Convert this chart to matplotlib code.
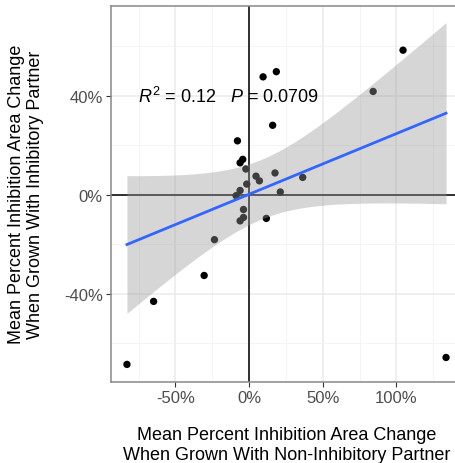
import numpy as np
import matplotlib
matplotlib.use("Agg")
import matplotlib.pyplot as plt
from matplotlib.ticker import FixedLocator, FuncFormatter

plt.rcParams['font.family'] = ['Liberation Sans', 'DejaVu Sans']
plt.rcParams['mathtext.fontset'] = 'custom'
plt.rcParams['mathtext.rm'] = 'Liberation Sans'
plt.rcParams['mathtext.it'] = 'Liberation Sans:italic'

# Data (percent)
x_nonihib = [104.5, 84.2, 18.5, 9.5, 16.0, -7.9, -4.3, -6.1, -2.2, 17.6, 36.4, 4.7, 7.0,
             -1.6, 21.2, -6.1, -8.8, -3.8, -3.8, -6.1, 11.7, -23.5, -30.5, -64.8, -82.9, 133.7]
y_inhib = [58.5, 41.8, 49.8, 47.7, 28.1, 21.8, 14.3, 12.9, 10.4, 8.8, 7.0, 7.5, 5.6,
           4.3, 1.1, 1.7, -0.4, -6.0, -9.2, -10.6, -9.6, -18.2, -32.7, -43.2, -68.7, -65.9]
x_ticks = [-50, 0, 50, 100]
y_ticks = [-40, 0, 40]
x_minor = [-75, -25, 25, 75, 125]
y_minor = [-60, -20, 20, 60]
annot_text = r"$R^2$ = 0.12   $P$ = 0.0709"
x_title = "Mean Percent Inhibition Area Change\nWhen Grown With Non-Inhibitory Partner"
y_title = "Mean Percent Inhibition Area Change\nWhen Grown With Inhibitory Partner"

x = np.array(x_nonihib)
y = np.array(y_inhib)
n = len(x)
b, a = np.polyfit(x, y, 1)
xs = np.linspace(x.min(), x.max(), 200)
yfit = a + b * xs
resid = y - (a + b * x)
s = np.sqrt(np.sum(resid**2) / (n - 2))
sxx = np.sum((x - x.mean())**2)
tval = 2.064  # t quantile 0.975, df=24
se = s * np.sqrt(1 / n + (xs - x.mean())**2 / sxx)
lo, hi = yfit - tval * se, yfit + tval * se

fig = plt.figure(figsize=(4.56, 4.64), dpi=100)
ax = fig.add_axes([111/456, 1 - 382.5/464, 351/456, 376/464])

xr = (x.min(), x.max())
yr = (min(y.min(), lo.min()), max(y.max(), hi.max()))
dx = (xr[1] - xr[0]) * 0.05
dy = (yr[1] - yr[0]) * 0.05
ax.set_xlim(xr[0] - dx, xr[1] + dx)
ax.set_ylim(yr[0] - dy, yr[1] + dy)

ax.xaxis.set_major_locator(FixedLocator(x_ticks))
ax.yaxis.set_major_locator(FixedLocator(y_ticks))
ax.xaxis.set_minor_locator(FixedLocator(x_minor))
ax.yaxis.set_minor_locator(FixedLocator(y_minor))
fmt = FuncFormatter(lambda v, p: f"{v:.0f}%")
ax.xaxis.set_major_formatter(fmt)
ax.yaxis.set_major_formatter(fmt)
ax.grid(which='major', color='#EBEBEB', lw=1.1, zorder=0)
ax.grid(which='minor', color='#F2F2F2', lw=0.6, zorder=0)
ax.set_axisbelow(True)
ax.tick_params(which='minor', length=0)
ax.tick_params(which='major', length=3.5, color='#333333', width=0.8,
               labelsize=12, labelcolor='#4D4D4D', pad=2.5)
for side in ['top', 'right', 'left', 'bottom']:
    ax.spines[side].set_color('#888888')
    ax.spines[side].set_linewidth(1.1)

ax.axhline(0, color='#222222', lw=1.3, zorder=1)
ax.axvline(0, color='#222222', lw=1.3, zorder=1)

ax.scatter(x, y, s=28, color='black', edgecolors='none', zorder=2)
ax.fill_between(xs, lo, hi, color='#999999', alpha=0.4, lw=0, zorder=3)
ax.plot(xs, yfit, color='#3366FF', lw=2.0, zorder=4)

ax.text(-75.5, 40, annot_text, fontsize=13, ha='left', va='center', zorder=5)

ax.set_xlabel(x_title, fontsize=13, labelpad=15, linespacing=1.25)
ax.set_ylabel(y_title, fontsize=13, linespacing=1.2)
ax.yaxis.set_label_coords(-0.19, 0.5)

fig.savefig("out.png", dpi=100)
